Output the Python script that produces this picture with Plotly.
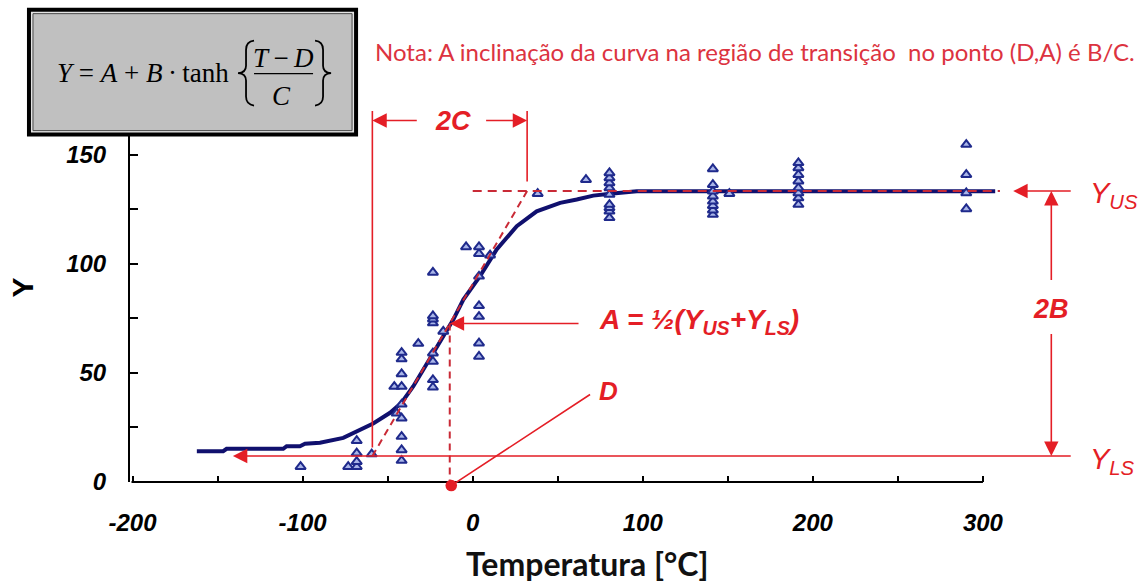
import plotly.graph_objects as go

# Transition-curve parameters: Y = A + B*tanh((T-D)/C)
Y_US = 133.3          # upper shelf
Y_LS = 11.9           # lower shelf
A_MID = (Y_US + Y_LS) / 2
D_T = -13.5           # transition temperature
C_W = 45.5            # half-width of the transition

# Measured points (temperature, Y)
temp_pts = [-101.2, -73.2,
            -68.2, -68.2, -68.2, -68.2,
            -59.4, -44.7, -46.1,
            -41.8, -41.8, -41.8, -41.8, -41.8, -41.8, -41.8, -41.8, -41.8,
            -32.0,
            -23.4, -23.4, -23.4, -23.4, -23.4, -23.4, -23.4, -23.4,
            -17.3, -3.9,
            3.7, 3.7, 3.7, 3.7, 3.7, 3.7, 3.7,
            10.2, 38.2, 66.6,
            80.4, 80.4, 80.4, 80.4, 80.4, 80.4, 80.4, 80.4, 80.4,
            141.2, 141.2, 141.2, 141.2, 141.2, 141.2, 141.2, 141.2,
            150.9,
            191.5, 191.5, 191.5, 191.5, 191.5, 191.5, 191.5, 191.5,
            290.2, 290.2, 290.2, 290.2]
y_pts = [7.0, 7.0,
         7.0, 9.3, 13.2, 18.9,
         12.8, 31.5, 43.7,
         9.8, 14.7, 20.8, 29.2, 35.6, 43.7, 49.5, 56.3, 59.3,
         63.4,
         43.4, 46.8, 55.2, 59.0, 72.8, 74.6, 76.1, 96.0,
         69.0, 107.7,
         57.5, 63.6, 75.8, 80.7, 94.2, 104.6, 107.7,
         103.9, 132.1, 138.5,
         121.0, 124.0, 125.6, 127.1, 131.7, 134.7, 137.0, 139.3, 141.6,
         122.5, 124.5, 126.6, 128.6, 130.9, 133.2, 136.2, 143.4,
         132.1,
         127.1, 130.1, 132.4, 134.7, 137.8, 140.8, 143.9, 146.2,
         125.1, 132.4, 140.8, 154.6]

# Fitted curve as traced
curve_t = [-162.2, -146.7, -144.7, -111.4, -109.4, -101.6, -98.6, -89.8, -76.1,
           -68.2, -58.5, -48.6, -41.8, -34.9, -27.1, -19.2, -11.4, -5.5, 4.3,
           14.1, 25.9, 37.6, 51.4, 61.2, 70.9, 80.8, 96.5, 307.2]
curve_y = [14.1, 14.1, 15.2, 15.2, 16.4, 16.4, 17.5, 18.0, 20.2,
           23.3, 26.8, 31.7, 36.3, 43.9, 53.8, 63.8, 74.4, 83.6, 94.3,
           106.5, 117.2, 124.0, 127.9, 129.4, 131.2, 132.1, 133.2, 133.2]

x_ticks = [-200, -150, -100, -50, 0, 50, 100, 150, 200, 250, 300]
x_ticktext = ["-200", "", "-100", "", "0", "", "100", "", "200", "", "300"]
y_ticks = [0, 25, 50, 75, 100, 125, 150]
y_ticktext = ["0", "", "50", "", "100", "", "150"]

X_AXIS_END = 300
# the plotting window is wider/taller than the drawn axes so the
# schematic labels around the curve stay inside it
X_RANGE = [-201.5, 380]
Y_RANGE = [0, 175]

# figure geometry (pixels)
W, H = 1146, 583
L = 130
PX_PER_T = 1.70028
PX_PER_Y = 2.18354
PW = (X_RANGE[1] - X_RANGE[0]) * PX_PER_T
PH = (Y_RANGE[1] - Y_RANGE[0]) * PX_PER_Y
BOT = 482.5

RED = "#e41e26"
DASH_RED = "#c92a36"
NAVY = "#10106e"


def px(x):
    return (x - L) / PW


def py(y):
    return (BOT - y) / PH


fig = go.Figure()

fig.add_trace(go.Scatter(x=curve_t, y=curve_y, mode="lines",
                         line=dict(color=NAVY, width=4), hoverinfo="skip"))
fig.add_trace(go.Scatter(x=temp_pts, y=y_pts, mode="markers",
                         marker=dict(symbol="triangle-up", size=9, color="#a9b5e8",
                                     line=dict(color="#1f2a8c", width=2))))

# tangent through (D, A) and the dashed guide lines
fig.add_trace(go.Scatter(x=[D_T - C_W, D_T + C_W], y=[Y_LS, Y_US], mode="lines",
                         line=dict(color=DASH_RED, width=2, dash="7px,5px")))
fig.add_trace(go.Scatter(x=[0, 310], y=[Y_US, Y_US], mode="lines",
                         line=dict(color=DASH_RED, width=2, dash="9px,6px")))
fig.add_trace(go.Scatter(x=[D_T, D_T], y=[A_MID, -3], mode="lines",
                         line=dict(color=DASH_RED, width=2, dash="7px,5px")))

annotations = []


def arrow(x, y, ax, ay, head=True, width=1.6, color=RED, **extra):
    a = dict(x=x, y=y, ax=ax, ay=ay, xref="x", yref="y",
             axref="x", ayref="y", text="", showarrow=True,
             arrowhead=2 if head else 0, arrowsize=1.8,
             arrowwidth=width, arrowcolor=color)
    a.update(extra)
    annotations.append(a)


def label(x, y, text, size, xanchor="center", color=RED, family="Liberation Sans",
          xref="x", yref="y", angle=0):
    annotations.append(dict(x=x, y=y, xref=xref, yref=yref, text=text, showarrow=False,
                            xanchor=xanchor, yanchor="middle", textangle=angle,
                            font=dict(family=family, size=size, color=color)))


# x-axis line
arrow(X_AXIS_END, 0, X_RANGE[0], 0, head=False, width=2, color="black")

# 2C markers
C_LINE_TOP = 170.6
C_ARROW_Y = 165.6
arrow(D_T - C_W, 15.8, D_T - C_W, C_LINE_TOP, head=False)
arrow(D_T + C_W, Y_US + 4.4, D_T + C_W, C_LINE_TOP, head=False)
arrow(D_T - C_W, C_ARROW_Y, D_T - C_W + 27, C_ARROW_Y)
arrow(D_T + C_W, C_ARROW_Y, D_T + C_W - 25, C_ARROW_Y)
label(-11.5, C_ARROW_Y, "<b><i>2C</i></b>", 27)

# upper / lower shelves and 2B
SHELF_X = 352.5
B_X = 340.2
arrow(317.8, Y_US, SHELF_X, Y_US)
arrow(-141, Y_LS, SHELF_X, Y_LS)
arrow(B_X, Y_US, B_X, 91.8)
arrow(B_X, Y_LS, B_X, 68.5)
label(B_X, 79.3, "<b><i>2B</i></b>", 27)
label(361.5, 131.6, "<i>Y<sub>US</sub></i>", 29, xanchor="left")
label(361.5, 9.8, "<i>Y<sub>LS</sub></i>", 29, xanchor="left")

# A and D (the D pointer ends in a dot on the temperature axis)
arrow(D_T, A_MID, 63.1, A_MID)
label(73.2, 73.4, "<b><i>A = ½(Y<sub>US</sub>+Y<sub>LS</sub>)</i></b>", 28, xanchor="left")
arrow(69, 40.1, D_T, -2.1, head=False, arrowside="start", startarrowhead=6,
      startarrowsize=1.8)
label(73.2, 41.5, "<b><i>D</i></b>", 26, xanchor="left")

# axis titles
label(px(23), py(288), "<b>Y</b>", 30, color="black", xref="paper", yref="paper", angle=-90)
label(px(586.5), py(564), "<b>Temperatura [°C]</b>", 32, color="#111111",
      family="Lato", xref="paper", yref="paper")

# note
label(px(373), py(52), "Nota: A inclinação da curva na região de transição  no ponto (D,A) é B/C.",
      24, xanchor="left", color="#dc3340", family="Lato", xref="paper", yref="paper")

# formula
label(px(55), py(73), "<i>Y</i> = <i>A</i> + <i>B</i>\u2009·\u2009tanh", 27, xanchor="left",
      color="black", family="Liberation Serif", xref="paper", yref="paper")
label(px(283), py(58), "<i>T</i>\u2009−\u2009<i>D</i>", 27, color="black",
      family="Liberation Serif", xref="paper", yref="paper")
label(px(281), py(96), "<i>C</i>", 27, color="black",
      family="Liberation Serif", xref="paper", yref="paper")


def pt(x, y):
    return f"{px(x):.5f},{py(y):.5f}"


def brace(x_stem, x_tip, x_end):
    return (f"M {pt(x_end, 41)} Q {pt(x_stem, 42)} {pt(x_stem, 50)} "
            f"L {pt(x_stem, 66)} Q {pt(x_stem, 73)} {pt(x_tip, 73.5)} "
            f"Q {pt(x_stem, 74)} {pt(x_stem, 81)} L {pt(x_stem, 97)} "
            f"Q {pt(x_stem, 105)} {pt(x_end, 106)}")


shapes = [
    dict(type="rect", xref="paper", yref="paper", x0=px(27), x1=px(358), y0=py(137), y1=py(8),
         fillcolor="black", line=dict(width=0)),
    dict(type="rect", xref="paper", yref="paper", x0=px(31), x1=px(354), y0=py(133), y1=py(12),
         fillcolor="#e4e4e4", line=dict(width=0)),
    dict(type="rect", xref="paper", yref="paper", x0=px(33), x1=px(352), y0=py(131), y1=py(14),
         fillcolor="#c0c0c0", line=dict(color="#4a4a4a", width=1)),
    dict(type="line", xref="paper", yref="paper", x0=px(254), x1=px(313), y0=py(74), y1=py(74),
         line=dict(color="black", width=1.3)),
    dict(type="path", xref="paper", yref="paper", path=brace(246, 238, 254),
         line=dict(color="black", width=1.8)),
    dict(type="path", xref="paper", yref="paper", path=brace(323, 331, 315),
         line=dict(color="black", width=1.8)),
]

tick_font = dict(family="Liberation Sans", size=24, color="black", weight="bold", style="italic")

fig.update_layout(
    width=W, height=H,
    margin=dict(l=L, r=W - L - PW, t=BOT - PH, b=H - BOT, pad=0),
    paper_bgcolor="white", plot_bgcolor="white",
    showlegend=False,
    annotations=annotations,
    shapes=shapes,
    xaxis=dict(range=X_RANGE, showline=False, showgrid=False, zeroline=False,
               ticks="inside", ticklen=6, tickwidth=1.5, tickcolor="black",
               tickvals=x_ticks, ticktext=x_ticktext, tickfont=tick_font,
               ticklabelstandoff=24),
    yaxis=dict(range=Y_RANGE, showline=True, linewidth=2, linecolor="black",
               showgrid=False, zeroline=False,
               ticks="inside", ticklen=8, tickwidth=1.5, tickcolor="black",
               tickvals=y_ticks, ticktext=y_ticktext, tickfont=tick_font,
               ticklabelstandoff=17),
)

fig.write_html("out.html")
